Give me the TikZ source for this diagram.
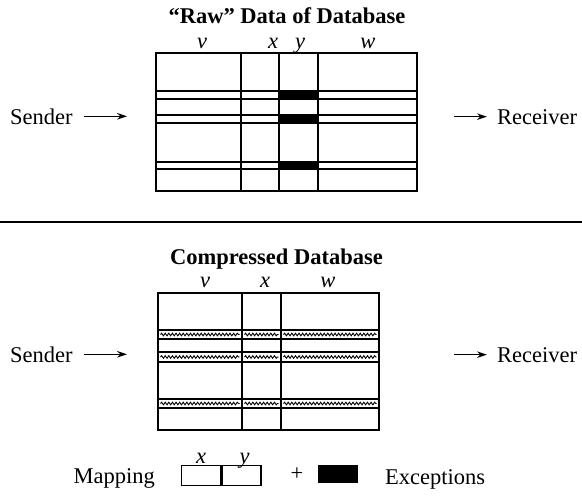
\documentclass[tikz,border=0pt]{standalone}
\usepackage{fontspec}
\setmainfont{Liberation Serif}
\usetikzlibrary{positioning, arrows.meta, decorations.pathmorphing}

\begin{document}
\begin{tikzpicture}[
  x=1pt, y=-1pt,
  font=\fontsize{22.5}{26}\selectfont,
  >={Stealth[length=10pt, width=6.5pt]},
  % --- node styles ---
  lbl/.style={inner sep=0pt, anchor=base west},
  ttl/.style={
    inner sep=0pt, anchor=base,
    font=\fontsize{22.5}{26}\selectfont\bfseries
  },
  col/.style={
    inner sep=0pt, anchor=base,
    font=\fontsize{22.5}{26}\selectfont\itshape
  },
  tab/.style={draw, line width=1.8pt, inner sep=0pt},
  cell/.style={
    draw, line width=1.4pt, inner sep=0pt,
    minimum width=39pt, minimum height=20pt, anchor=north west
  },
  exc/.style={fill=black},
  band/.style={draw, line width=2.4pt, fill=white},
  wave/.style={
    decorate, line width=0.9pt,
    decoration={snake, segment length=3.6pt, amplitude=1.3pt}
  },
  rule/.style={line width=1.6pt},
  arr/.style={->, line width=1.5pt},
]
\useasboundingbox (0,0) rectangle (582,499);

% ══════════════════════════════════════════════
% RAW DATA (top)
% ══════════════════════════════════════════════

\node[ttl] (rawt) at (287,23) {``Raw'' Data of Database};

\node[tab, minimum width=261pt, minimum height=138pt] (raw) at (286.5,122) {};

\foreach \ya/\yb in {91/99, 115/123, 162/169} {
  \fill[exc] (279,\ya) rectangle (318,\yb);
  \draw[rule] (156,\ya) -- (417,\ya) (156,\yb) -- (417,\yb);
}
\foreach \cx in {241, 279, 318}
  \draw[rule] (\cx,53) -- (\cx,191);

\node[col] (rawv) at (202,48) {v};
\node[col] (rawx) at (273,48) {x};
\node[col] (rawy) at (300,48) {y};
\node[col] (raww) at (368,48) {w};

\node[lbl] (send1) at (10,124) {Sender};
\node[lbl] (recv1) at (497,124) {Receiver};

\draw[arr] ([xshift=11pt]send1.east) -- ([xshift=-28pt]send1.east -| raw.west);
\draw[arr] ([xshift=36pt]recv1.west -| raw.east) -- ([xshift=-10pt]recv1.west);

% separator
\draw[line width=2pt] (0,222) -- (582,222);

% ══════════════════════════════════════════════
% COMPRESSED DATABASE (bottom)
% ══════════════════════════════════════════════

\node[ttl] (cmpt) at (276.5,264) {Compressed Database};

\node[tab, minimum width=221pt, minimum height=137pt] (cmp) at (268.5,361.5) {};

\foreach \ya/\yb in {330/339, 352/362, 399/408} {
  \draw[band] (158,\ya) rectangle (379,\yb);
  \foreach \xa/\xb in {158/242, 242/281, 281/379}
    \draw[wave] ({\xa+2.5},{(\ya+\yb)/2}) -- ({\xb-2.5},{(\ya+\yb)/2});
}
\foreach \cx in {242, 281}
  \draw[rule] (\cx,293) -- (\cx,430);

\node[col] (cmpv) at (205,287) {v};
\node[col] (cmpx) at (265,287) {x};
\node[col] (cmpw) at (328,287) {w};

\node[lbl] (send2) at (10,362) {Sender};
\node[lbl] (recv2) at (497,362) {Receiver};

\draw[arr] ([xshift=11pt]send2.east) -- ([xshift=-30pt]send2.east -| cmp.west);
\draw[arr] ([xshift=74pt]recv2.west -| cmp.east) -- ([xshift=-10pt]recv2.west);

% ══════════════════════════════════════════════
% LEGEND
% ══════════════════════════════════════════════

\node[lbl, anchor=base east] (mapl) at (155,483) {Mapping};
\node[cell] (mapx) at (181,465) {};
\node[cell, right=0pt of mapx] (mapy) {};
\node[col] at ([yshift=2pt]mapx.north) {x};
\node[col] at ([xshift=3pt, yshift=2pt]mapy.north) {y};

\node[inner sep=0pt] (plus) at (297,474) {+};
\node[exc, inner sep=0pt, minimum width=40pt, minimum height=18pt,
  anchor=north west] (excb) at (318,465) {};
\node[lbl] (excl) at (385,484) {Exceptions};

\end{tikzpicture}
\end{document}
